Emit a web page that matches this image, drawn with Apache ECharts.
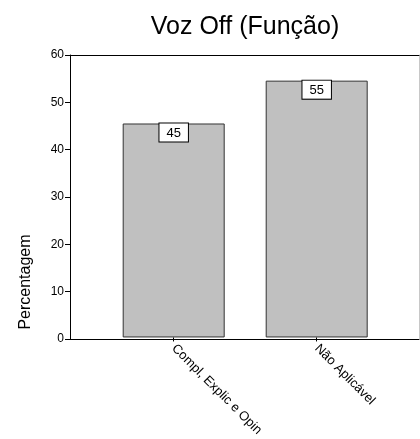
<!DOCTYPE html>
<html>
<head>
<meta charset="utf-8">
<script src="https://cdn.jsdelivr.net/npm/echarts@6/dist/echarts.min.js"></script>
<style>
html,body{margin:0;padding:0;background:#fff;}
#chart{width:420px;height:439px;}
</style>
</head>
<body>
<div id="chart"></div>
<script>
const titleText = 'Voz Off (Função)';
const yAxisTitle = 'Percentagem';
const categories = ['Compl, Explic e Opin', 'Não Aplicável'];
const percentages = [45.45, 54.55];
const valueLabels = ['45', '55'];
const yTicks = [0, 10, 20, 30, 40, 50, 60];

const FONT = '"Liberation Sans", Arial, sans-serif';
const chart = echarts.init(document.getElementById('chart'), null, {renderer: 'canvas'});
const plotTop = 55, plotBottom = 100;

chart.setOption({
  backgroundColor: '#ffffff',
  animation: false,
  title: {
    text: titleText,
    left: 240, top: 10, textAlign: 'center',
    textStyle: {fontFamily: FONT, fontSize: 25, fontWeight: 'normal', color: '#000'}
  },
  graphic: [{
    type: 'text',
    x: 26, y: 282, rotation: Math.PI / 2,
    style: {text: yAxisTitle, font: '16px ' + FONT, fill: '#000', textAlign: 'center', textVerticalAlign: 'middle'}
  }],
  grid: [
    {left: 70, right: 1, top: plotTop, bottom: plotBottom},
    {left: 102.2, right: 31.8, top: plotTop, bottom: plotBottom}
  ],
  xAxis: [
    {gridIndex: 0, type: 'value', min: 0, max: 1, position: 'bottom',
     axisLine: {show: true, onZero: false, lineStyle: {color: '#000', width: 1}},
     axisTick: {show: false}, axisLabel: {show: false}, splitLine: {show: false}},
    {gridIndex: 0, type: 'value', min: 0, max: 1, position: 'top',
     axisLine: {show: true, onZero: false, lineStyle: {color: '#000', width: 1}},
     axisTick: {show: false}, axisLabel: {show: false}, splitLine: {show: false}},
    {gridIndex: 1, type: 'category', data: categories, position: 'bottom',
     axisLine: {show: false},
     axisTick: {show: true, alignWithLabel: true, length: 4, lineStyle: {color: '#000'}},
     axisLabel: {rotate: -45, margin: 9, fontFamily: FONT, fontSize: 13, color: '#000'},
     splitLine: {show: false}}
  ],
  yAxis: [
    {gridIndex: 0, type: 'value', min: 0, max: 60, interval: 10, position: 'left',
     axisLine: {show: true, onZero: false, lineStyle: {color: '#000', width: 1}},
     axisTick: {show: true, length: 5, lineStyle: {color: '#000'}},
     axisLabel: {fontFamily: FONT, fontSize: 12, color: '#000', margin: 6,
                 customValues: yTicks},
     splitLine: {show: false}},
    {gridIndex: 0, type: 'value', min: 0, max: 60, position: 'right',
     axisLine: {show: true, onZero: false, lineStyle: {color: '#c8c8c8', width: 1}},
     axisTick: {show: false}, axisLabel: {show: false}, splitLine: {show: false}},
    {gridIndex: 1, type: 'value', min: 0, max: 60, interval: 10, show: false,
     splitLine: {show: false}}
  ],
  series: [{
    type: 'bar',
    xAxisIndex: 2, yAxisIndex: 2,
    data: percentages,
    barWidth: 102,
    itemStyle: {color: '#c0c0c0', borderColor: '#333', borderWidth: 1},
    label: {
      show: true, position: 'insideTop', distance: 0,
      formatter: p => valueLabels[p.dataIndex],
      fontFamily: FONT, fontSize: 13, color: '#000',
      backgroundColor: '#fff', borderColor: '#000', borderWidth: 1,
      padding: [3, 7, 2, 7]
    }
  }]
});
</script>
</body>
</html>
